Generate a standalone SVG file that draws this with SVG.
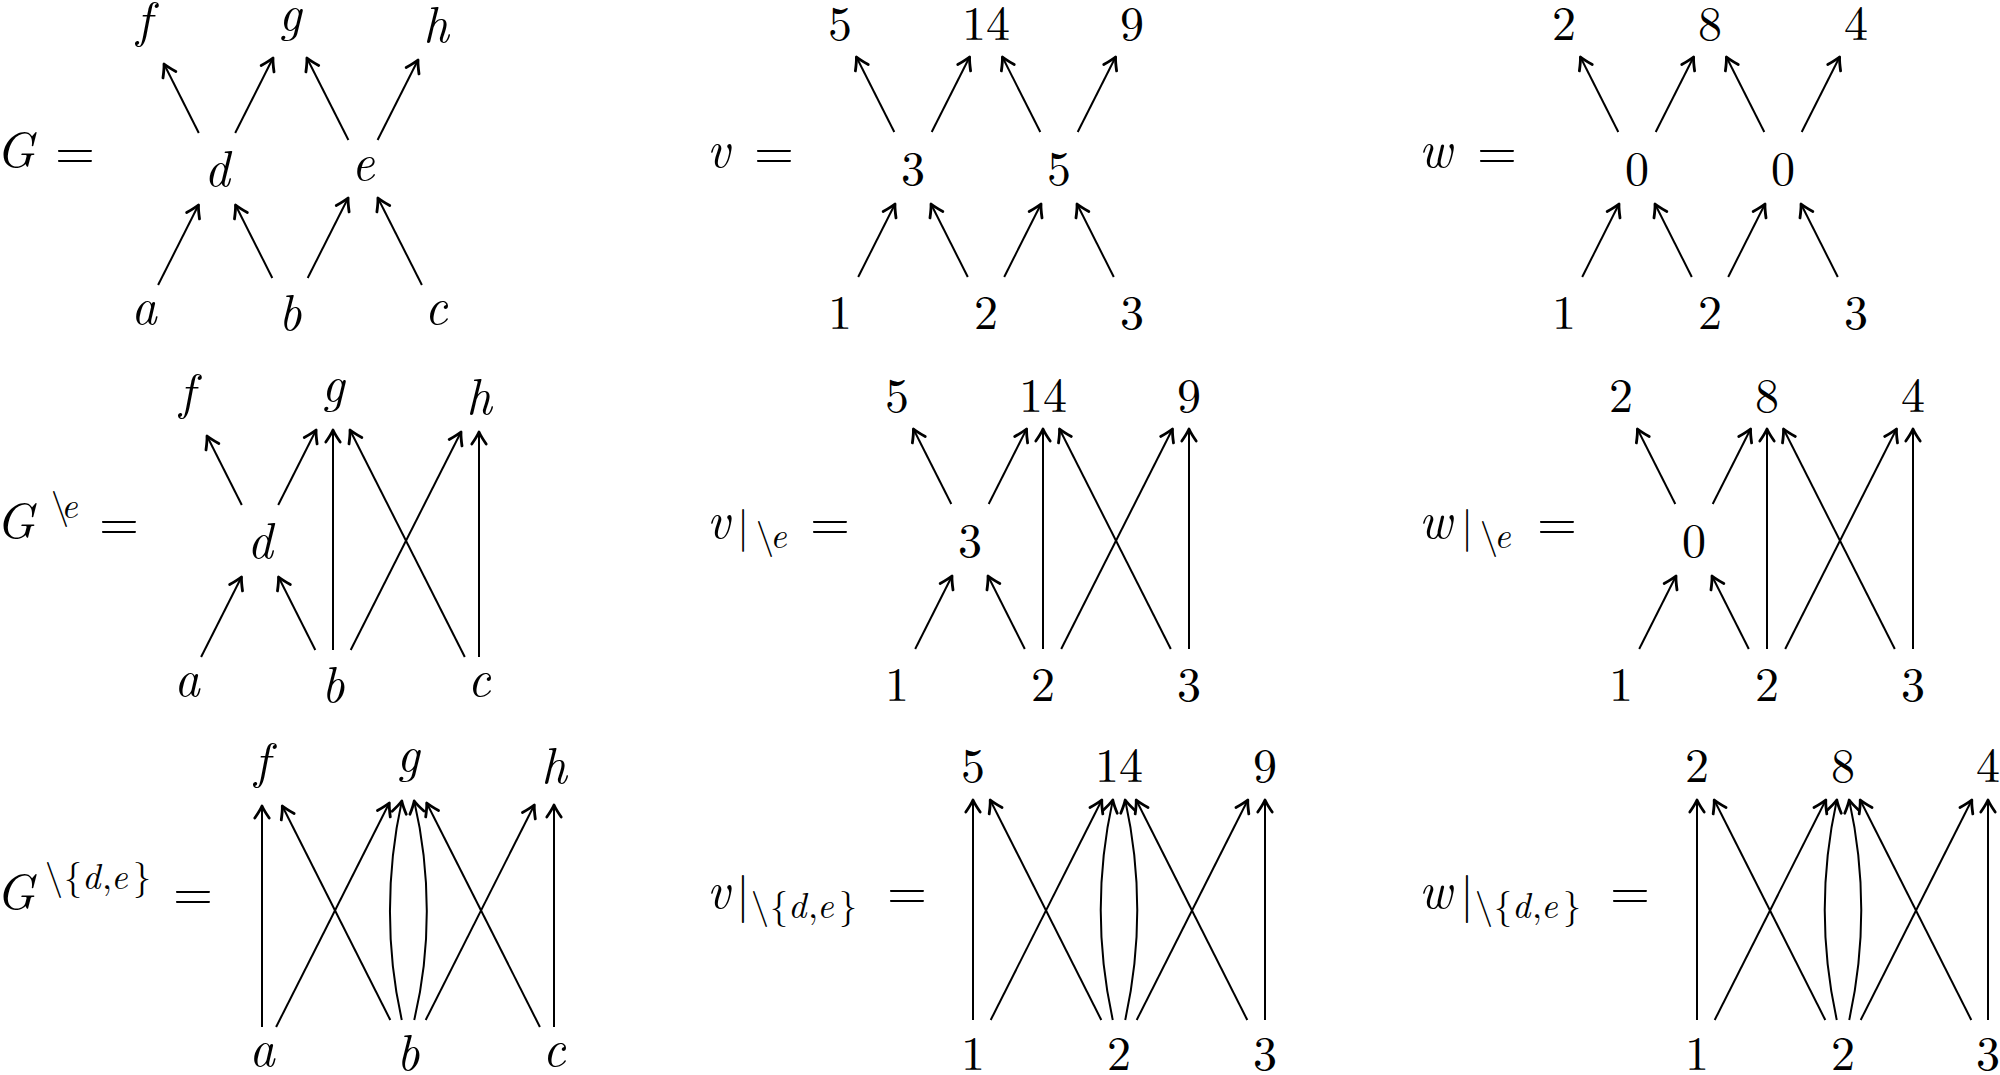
<svg xmlns="http://www.w3.org/2000/svg" width="2000" height="1075" viewBox="0 0 2000 1075">
<defs>
<marker id="arr" markerUnits="userSpaceOnUse" markerWidth="20" markerHeight="20" viewBox="-14 -10 20 20" refX="0" refY="0" orient="auto" overflow="visible">
<path d="M -12 -7.2 Q -4.5 -2 0 0 Q -4.5 2 -12 7.2" fill="none" stroke="#000" stroke-width="2.8" stroke-linecap="round" stroke-linejoin="round"/>
</marker>
</defs>
<style>
.t{font-family:'Latin Modern Roman','CMU Serif','Computer Modern','TeX Gyre Termes','Nimbus Roman','FreeSerif','Noto Serif','Liberation Serif','Times New Roman','DejaVu Serif',serif;fill:#000}
.n{font-size:48px;text-anchor:middle}
.i{font-style:italic;font-size:50px}
.s{font-size:36px}
.e{font-size:48px}
.bar{font-size:42px;text-anchor:middle}
.bar3{font-size:48px;text-anchor:middle}
.edge{fill:none;stroke:#000;stroke-width:2;marker-end:url(#arr)}
</style>
<rect width="2000" height="1075" fill="#fff"/>
<g class="t">
<!-- Row labels -->
<g id="label-G"><text class="i" x="-4" y="166.5">G</text><text class="e" x="55" y="167.5" textLength="40" lengthAdjust="spacingAndGlyphs">=</text></g>
<g id="label-v"><text class="i" x="707" y="166.5">v</text><text class="e" x="754" y="167.5" textLength="40" lengthAdjust="spacingAndGlyphs">=</text></g>
<g id="label-w"><text class="i" x="1419" y="166.5">w</text><text class="e" x="1477" y="167.5" textLength="40" lengthAdjust="spacingAndGlyphs">=</text></g>
<g id="label-Ge"><text class="i" x="-4" y="538">G</text><text class="s" y="518"><tspan x="51">\</tspan><tspan x="61" font-style="italic">e</tspan></text><text class="e" x="99" y="538.5" textLength="40" lengthAdjust="spacingAndGlyphs">=</text></g>
<g id="label-ve"><text class="i" x="707" y="538">v</text><text class="bar" x="743" y="541">|</text><text class="s" y="548"><tspan x="756">\</tspan><tspan x="770" font-style="italic">e</tspan></text><text class="e" x="810" y="538.5" textLength="40" lengthAdjust="spacingAndGlyphs">=</text></g>
<g id="label-we"><text class="i" x="1419" y="538">w</text><text class="bar" x="1467" y="541">|</text><text class="s" y="548"><tspan x="1480">\</tspan><tspan x="1494" font-style="italic">e</tspan></text><text class="e" x="1537" y="538.5" textLength="40" lengthAdjust="spacingAndGlyphs">=</text></g>
<g id="label-Gde"><text class="i" x="-4" y="909">G</text><text class="s" y="889"><tspan x="45">\</tspan><tspan x="64">{</tspan><tspan x="82" font-style="italic">d</tspan><tspan x="102">,</tspan><tspan x="111" font-style="italic">e</tspan><tspan x="133">}</tspan></text><text class="e" x="173" y="909" textLength="40" lengthAdjust="spacingAndGlyphs">=</text></g>
<g id="label-vde"><text class="i" x="707" y="908">v</text><text class="bar3" x="743" y="911">|</text><text class="s" y="918"><tspan x="751">\</tspan><tspan x="770">{</tspan><tspan x="788" font-style="italic">d</tspan><tspan x="808">,</tspan><tspan x="817" font-style="italic">e</tspan><tspan x="839">}</tspan></text><text class="e" x="887" y="908" textLength="40" lengthAdjust="spacingAndGlyphs">=</text></g>
<g id="label-wde"><text class="i" x="1419" y="908">w</text><text class="bar3" x="1467" y="911">|</text><text class="s" y="918"><tspan x="1475">\</tspan><tspan x="1494">{</tspan><tspan x="1512" font-style="italic">d</tspan><tspan x="1532">,</tspan><tspan x="1541" font-style="italic">e</tspan><tspan x="1563">}</tspan></text><text class="e" x="1610" y="908" textLength="40" lengthAdjust="spacingAndGlyphs">=</text></g>

<!-- Row 1 : G -->
<g id="G-f"><text class="n i" x="144" y="37">f</text></g>
<g id="G-g"><text class="n i" x="290" y="31">g</text></g>
<g id="G-h"><text class="n i" x="436" y="41.5">h</text></g>
<g id="G-d"><text class="n i" x="217" y="186">d</text></g>
<g id="G-e"><text class="n i" x="363" y="179.6">e</text></g>
<g id="G-a"><text class="n i" x="144" y="323.6">a</text></g>
<g id="G-b"><text class="n i" x="290" y="330">b</text></g>
<g id="G-c"><text class="n i" x="436" y="323.6">c</text></g>
<!-- Row 1 : v -->
<g id="v-f"><text class="n" x="840" y="40.3">5</text></g>
<g id="v-g"><text class="n" x="986" y="40.3">14</text></g>
<g id="v-h"><text class="n" x="1132" y="40.3">9</text></g>
<g id="v-d"><text class="n" x="913" y="184.8">3</text></g>
<g id="v-e"><text class="n" x="1059" y="184.8">5</text></g>
<g id="v-a"><text class="n" x="840" y="328.8">1</text></g>
<g id="v-b"><text class="n" x="986" y="328.8">2</text></g>
<g id="v-c"><text class="n" x="1132" y="328.8">3</text></g>
<!-- Row 1 : w -->
<g id="w-f"><text class="n" x="1564" y="40.3">2</text></g>
<g id="w-g"><text class="n" x="1710" y="40.3">8</text></g>
<g id="w-h"><text class="n" x="1856" y="40.3">4</text></g>
<g id="w-d"><text class="n" x="1637" y="184.8">0</text></g>
<g id="w-e"><text class="n" x="1783" y="184.8">0</text></g>
<g id="w-a"><text class="n" x="1564" y="328.8">1</text></g>
<g id="w-b"><text class="n" x="1710" y="328.8">2</text></g>
<g id="w-c"><text class="n" x="1856" y="328.8">3</text></g>

<!-- Row 2 : G\e -->
<g id="Ge-f"><text class="n i" x="187" y="408.8">f</text></g>
<g id="Ge-g"><text class="n i" x="333" y="402.3">g</text></g>
<g id="Ge-h"><text class="n i" x="479" y="413.5">h</text></g>
<g id="Ge-d"><text class="n i" x="260" y="558">d</text></g>
<g id="Ge-a"><text class="n i" x="187" y="695.6">a</text></g>
<g id="Ge-b"><text class="n i" x="333" y="702">b</text></g>
<g id="Ge-c"><text class="n i" x="479" y="695.6">c</text></g>
<!-- Row 2 : v|\e -->
<g id="ve-f"><text class="n" x="897" y="412.3">5</text></g>
<g id="ve-g"><text class="n" x="1043" y="412.3">14</text></g>
<g id="ve-h"><text class="n" x="1189" y="412.3">9</text></g>
<g id="ve-d"><text class="n" x="970" y="556.8">3</text></g>
<g id="ve-a"><text class="n" x="897" y="700.8">1</text></g>
<g id="ve-b"><text class="n" x="1043" y="700.8">2</text></g>
<g id="ve-c"><text class="n" x="1189" y="700.8">3</text></g>
<!-- Row 2 : w|\e -->
<g id="we-f"><text class="n" x="1621" y="412.3">2</text></g>
<g id="we-g"><text class="n" x="1767" y="412.3">8</text></g>
<g id="we-h"><text class="n" x="1913" y="412.3">4</text></g>
<g id="we-d"><text class="n" x="1694" y="556.8">0</text></g>
<g id="we-a"><text class="n" x="1621" y="700.8">1</text></g>
<g id="we-b"><text class="n" x="1767" y="700.8">2</text></g>
<g id="we-c"><text class="n" x="1913" y="700.8">3</text></g>

<!-- Row 3 : G\{d,e} -->
<g id="Gde-f"><text class="n i" x="262" y="778.3">f</text></g>
<g id="Gde-g"><text class="n i" x="408" y="771.8">g</text></g>
<g id="Gde-h"><text class="n i" x="554" y="783">h</text></g>
<g id="Gde-a"><text class="n i" x="262" y="1065.6">a</text></g>
<g id="Gde-b"><text class="n i" x="408" y="1070">b</text></g>
<g id="Gde-c"><text class="n i" x="554" y="1065.6">c</text></g>
<!-- Row 3 : v|\{d,e} -->
<g id="vde-f"><text class="n" x="973" y="781.8">5</text></g>
<g id="vde-g"><text class="n" x="1119" y="781.8">14</text></g>
<g id="vde-h"><text class="n" x="1265" y="781.8">9</text></g>
<g id="vde-a"><text class="n" x="973" y="1069.5">1</text></g>
<g id="vde-b"><text class="n" x="1119" y="1069.5">2</text></g>
<g id="vde-c"><text class="n" x="1265" y="1069.5">3</text></g>
<!-- Row 3 : w|\{d,e} -->
<g id="wde-f"><text class="n" x="1697" y="781.8">2</text></g>
<g id="wde-g"><text class="n" x="1843" y="781.8">8</text></g>
<g id="wde-h"><text class="n" x="1988" y="781.8">4</text></g>
<g id="wde-a"><text class="n" x="1697" y="1069.5">1</text></g>
<g id="wde-b"><text class="n" x="1843" y="1069.5">2</text></g>
<g id="wde-c"><text class="n" x="1988" y="1069.5">3</text></g>
</g>

<g id="connectors">
<!-- Row 1 G -->
<path class="edge" d="M158.1 285 L198.5 205"/>
<path class="edge" d="M272.3 278 L235.5 205"/>
<path class="edge" d="M307.7 278 L348.1 198"/>
<path class="edge" d="M421.9 285 L377.9 198"/>
<path class="edge" d="M198.8 133 L164 64"/>
<path class="edge" d="M235.2 133 L273 58"/>
<path class="edge" d="M348.4 140 L306.9 58"/>
<path class="edge" d="M377.6 140 L418 60"/>
<!-- Row 1 v -->
<path class="edge" d="M858.2 277 L895 204"/>
<path class="edge" d="M967.8 277 L931 204"/>
<path class="edge" d="M1004.2 277 L1041 204"/>
<path class="edge" d="M1113.8 277 L1077 204"/>
<path class="edge" d="M894.3 132 L856.4 57"/>
<path class="edge" d="M931.7 132 L969.6 57"/>
<path class="edge" d="M1040.3 132 L1002.4 57"/>
<path class="edge" d="M1077.7 132 L1115.6 57"/>
<!-- Row 1 w -->
<path class="edge" d="M1582.2 277 L1619 204"/>
<path class="edge" d="M1691.8 277 L1655 204"/>
<path class="edge" d="M1728.2 277 L1765 204"/>
<path class="edge" d="M1837.8 277 L1801 204"/>
<path class="edge" d="M1618.3 132 L1580.4 57"/>
<path class="edge" d="M1655.7 132 L1693.6 57"/>
<path class="edge" d="M1764.3 132 L1726.4 57"/>
<path class="edge" d="M1801.7 132 L1839.6 57"/>
<!-- Row 2 G\e -->
<path class="edge" d="M201.1 657 L241.5 577"/>
<path class="edge" d="M315.3 650 L278.5 577"/>
<path class="edge" d="M241.8 505 L207 436"/>
<path class="edge" d="M278.2 505 L316.1 430"/>
<path class="edge" d="M333 650 L333 430"/>
<path class="edge" d="M350.7 650 L461 432"/>
<path class="edge" d="M464.8 657 L350 430"/>
<path class="edge" d="M479 657 L479 432"/>
<!-- Row 2 v|\e -->
<path class="edge" d="M915.2 649 L952 576"/>
<path class="edge" d="M1024.8 649 L988 576"/>
<path class="edge" d="M951.3 504 L913.4 429"/>
<path class="edge" d="M988.7 504 L1026.6 429"/>
<path class="edge" d="M1043 649 L1043 429"/>
<path class="edge" d="M1061.2 649 L1172.5 429"/>
<path class="edge" d="M1170.8 649 L1059.5 429"/>
<path class="edge" d="M1189 649 L1189 429"/>
<!-- Row 2 w|\e -->
<path class="edge" d="M1639.2 649 L1676 576"/>
<path class="edge" d="M1748.8 649 L1712 576"/>
<path class="edge" d="M1675.3 504 L1637.4 429"/>
<path class="edge" d="M1712.7 504 L1750.6 429"/>
<path class="edge" d="M1767 649 L1767 429"/>
<path class="edge" d="M1785.2 649 L1896.5 429"/>
<path class="edge" d="M1894.8 649 L1783.5 429"/>
<path class="edge" d="M1913 649 L1913 429"/>
<!-- Row 3 G\{d,e} -->
<path class="edge" d="M262 1027 L262 806"/>
<path class="edge" d="M276.1 1027 L389.3 803"/>
<path class="edge" d="M390.3 1020 L282.3 806"/>
<path class="edge" d="M401.8 1020 C386 950 386 873 401.8 801"/>
<path class="edge" d="M414.2 1020 C431 950 431 873 414.2 801"/>
<path class="edge" d="M425.7 1020 L534.3 805"/>
<path class="edge" d="M539.9 1027 L426.7 803"/>
<path class="edge" d="M554 1027 L554 805"/>
<!-- Row 3 v|\{d,e} -->
<path class="edge" d="M973 1020 L973 800"/>
<path class="edge" d="M990.7 1020 L1101.8 800"/>
<path class="edge" d="M1101.3 1020 L990.2 800"/>
<path class="edge" d="M1112.8 1020 C1097 948 1097 872 1112.8 800"/>
<path class="edge" d="M1125.2 1020 C1141 948 1141 872 1125.2 800"/>
<path class="edge" d="M1136.7 1020 L1247.8 800"/>
<path class="edge" d="M1247.3 1020 L1136.2 800"/>
<path class="edge" d="M1265 1020 L1265 800"/>
<!-- Row 3 w|\{d,e} -->
<path class="edge" d="M1697 1020 L1697 800"/>
<path class="edge" d="M1714.7 1020 L1825.8 800"/>
<path class="edge" d="M1825.3 1020 L1714.2 800"/>
<path class="edge" d="M1836.8 1020 C1821 948 1821 872 1836.8 800"/>
<path class="edge" d="M1849.2 1020 C1865 948 1865 872 1849.2 800"/>
<path class="edge" d="M1860.7 1020 L1971.8 800"/>
<path class="edge" d="M1971.3 1020 L1860.2 800"/>
<path class="edge" d="M1988 1020 L1988 800"/>
</g>
</svg>
